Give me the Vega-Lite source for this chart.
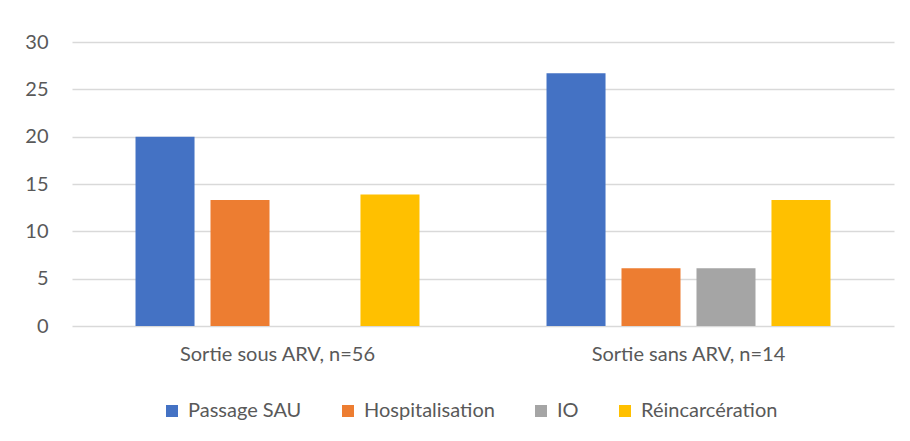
{
  "$schema": "https://vega.github.io/schema/vega-lite/v6.json",
  "width": 822,
  "height": 284,
  "autosize": "none",
  "padding": {"left": 72, "top": 42, "right": 16, "bottom": 115},
  "background": "white",
  "data": {
    "values": [
      {"groupe": "Sortie sous ARV, n=56", "categorie": "Passage SAU", "valeur": 20.0},
      {"groupe": "Sortie sous ARV, n=56", "categorie": "Hospitalisation", "valeur": 13.3},
      {"groupe": "Sortie sous ARV, n=56", "categorie": "IO", "valeur": 0},
      {"groupe": "Sortie sous ARV, n=56", "categorie": "Réincarcération", "valeur": 13.9},
      {"groupe": "Sortie sans ARV, n=14", "categorie": "Passage SAU", "valeur": 26.7},
      {"groupe": "Sortie sans ARV, n=14", "categorie": "Hospitalisation", "valeur": 6.1},
      {"groupe": "Sortie sans ARV, n=14", "categorie": "IO", "valeur": 6.1},
      {"groupe": "Sortie sans ARV, n=14", "categorie": "Réincarcération", "valeur": 13.3}
    ]
  },
  "mark": {"type": "bar"},
  "encoding": {
    "x": {
      "field": "groupe", "type": "nominal",
      "sort": ["Sortie sous ARV, n=56", "Sortie sans ARV, n=14"],
      "scale": {"paddingInner": 0, "paddingOuter": 0},
      "axis": {"title": null, "labelAngle": 0, "ticks": false, "domain": false, "labelPadding": 18, "labelFontSize": 20, "labelLimit": 0, "labelColor": "#595959", "labelFont": "Lato"}
    },
    "xOffset": {
      "field": "categorie", "type": "nominal",
      "sort": ["Passage SAU", "Hospitalisation", "IO", "Réincarcération"],
      "scale": {"paddingInner": 0.213, "paddingOuter": 0.847}
    },
    "y": {
      "field": "valeur", "type": "quantitative",
      "scale": {"domain": [0, 30], "nice": false},
      "axis": {"title": null, "values": [0, 5, 10, 15, 20, 25, 30], "ticks": false, "domain": false, "labelPadding": 24, "labelFontSize": 20, "labelColor": "#595959", "labelFont": "Lato", "gridColor": "#d9d9d9", "gridWidth": 1.3}
    },
    "color": {
      "field": "categorie", "type": "nominal",
      "sort": ["Passage SAU", "Hospitalisation", "IO", "Réincarcération"],
      "scale": {"domain": ["Passage SAU", "Hospitalisation", "IO", "Réincarcération"], "range": ["#4472c4", "#ed7d31", "#a5a5a5", "#ffc000"]},
      "legend": {
        "title": null, "orient": "none", "direction": "horizontal",
        "legendX": 90, "legendY": 359,
        "symbolType": "square", "symbolSize": 144, "symbolStrokeWidth": 0,
        "labelFontSize": 20, "labelColor": "#595959", "labelFont": "Lato", "labelLimit": 0,
        "labelOffset": 6, "columnPadding": 36
      }
    }
  },
  "config": {
    "view": {"stroke": null},
    "axis": {"labelFont": "Lato"}
  }
}
